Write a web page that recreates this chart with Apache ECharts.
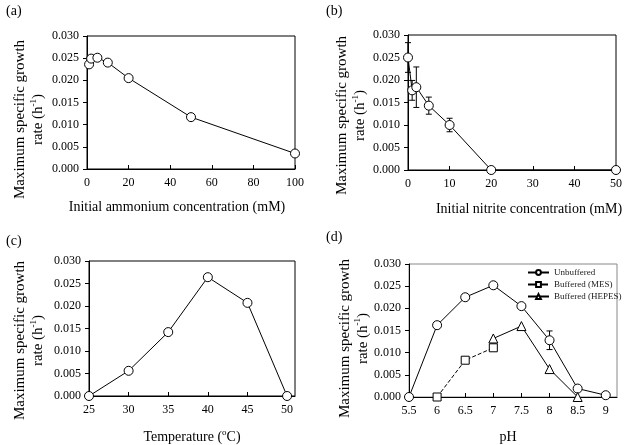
<!DOCTYPE html>
<html>
<head>
<meta charset="utf-8">
<script src="https://cdn.jsdelivr.net/npm/echarts@6/dist/echarts.min.js"></script>
<style>html,body{margin:0;padding:0;background:#fff}#c{width:640px;height:445px}</style>
</head>
<body>
<div id="c"></div>
<script>
// (a) ammonium
const aX = [1, 2, 5, 10, 20, 50, 100];
const aY = [0.0236, 0.0249, 0.0251, 0.0240, 0.0205, 0.0117, 0.0035];
// (b) nitrite
const bX = [0, 1, 2, 5, 10, 20, 50];
const bY = [0.0250, 0.0177, 0.0184, 0.0143, 0.0100, 0, 0];
const bErr = [0.0033, 0.0022, 0.0045, 0.0019, 0.0015, 0, 0];
// (c) temperature
const cX = [25, 30, 35, 40, 45, 50];
const cY = [0, 0.0056, 0.0142, 0.0264, 0.0207, 0];
// (d) pH
const dX = [5.5, 6, 6.5, 7, 7.5, 8, 8.5, 9];
const dUnbuf = [0, 0.0162, 0.0225, 0.0252, 0.0205, 0.0128, 0.0019, 0.0004];
const dUnbufErr = [0, 0, 0, 0, 0, 0.0021, 0, 0];
const dMesX = [6, 6.5, 7];
const dMes = [0, 0.0083, 0.0111];
const dHepesX = [7, 7.5, 8, 8.5];
const dHepes = [0.0132, 0.0160, 0.0063, 0];
const yTicks = ['0.000', '0.005', '0.010', '0.015', '0.020', '0.025', '0.030'];

const FONT = '"Liberation Serif", "Times New Roman", serif';
const pairs = (xs, ys) => xs.map((x, i) => [x, ys[i]]);

const chart = echarts.init(document.getElementById('c'), null, {renderer: 'canvas'});

const grids = [
  {left: 87, top: 36, width: 208, height: 133, show: true, borderColor: '#000', borderWidth: 1},
  {left: 408, top: 35, width: 208, height: 135, show: true, borderColor: '#000', borderWidth: 1},
  {left: 89, top: 261, width: 206, height: 135, show: true, borderColor: '#000', borderWidth: 1},
  {left: 409, top: 264, width: 208, height: 136, show: true, borderColor: '#888', borderWidth: 1}
];

const xCfg = [
  {min: 0, max: 100, interval: 20, pad: [0, 28, 0, 0], name: 'Initial ammonium concentration (mM)', gap: 31},
  {min: 0, max: 50, interval: 10, pad: [0, 0, 0, 34], name: 'Initial nitrite concentration (mM)', gap: 32},
  {min: 25, max: 51, interval: 5, pad: [0, 0, 0, 0], name: '{a|Temperature (}{s|o}{a|C)}', gap: 32},
  {min: 5.5, max: 9.2, interval: 0.5, pad: [0, 10, 0, 0], name: 'pH', gap: 33}
];
const yGaps = [40, 39, 42, 37];
const yShift = [34, 26, 24, 16];

const richX = {
  a: {fontFamily: FONT, fontSize: 14, color: '#000', lineHeight: 18},
  s: {fontFamily: FONT, fontSize: 9, color: '#000', verticalAlign: 'top', lineHeight: 18, padding: [0, 0, 6, 0]}
};
const richY = {
  a: {fontFamily: FONT, fontSize: 15, color: '#000', lineHeight: 18},
  s: {fontFamily: FONT, fontSize: 9, color: '#000', verticalAlign: 'top', lineHeight: 18, padding: [0, 0, 6, 0]}
};

const xAxis = xCfg.map((c, i) => ({
  type: 'value', gridIndex: i, min: c.min, max: c.max, interval: c.interval,
  name: c.name, nameLocation: 'middle', nameGap: c.gap,
  nameTextStyle: {fontFamily: FONT, fontSize: 14, color: '#000', padding: c.pad, rich: richX},
  axisLine: {show: true, onZero: false, lineStyle: {color: '#000', width: 1}},
  axisTick: {show: true, inside: true, length: 4, lineStyle: {color: '#000'}},
  splitLine: {show: false},
  axisLabel: {
    fontFamily: FONT, fontSize: 12, color: '#000', margin: 8,
    showMaxLabel: i < 2,
    formatter: v => {
      const k = (v - c.min) / c.interval;
      return Math.abs(k - Math.round(k)) < 1e-6 ? String(Math.round(v * 10) / 10) : '';
    }
  }
}));

const yAxis = grids.map((g, i) => ({
  type: 'value', gridIndex: i, min: 0, max: 0.03, interval: 0.005,
  name: '{a|Maximum specific growth}\n{a|rate (h}{s|-1}{a|)}',
  nameLocation: 'middle', nameGap: yGaps[i], nameRotate: 90,
  nameTextStyle: {rich: richY, align: 'center', padding: [0, yShift[i], 0, 0]},
  axisLine: {show: true, lineStyle: {color: '#000', width: 1}},
  axisTick: {show: true, inside: false, length: 4, lineStyle: {color: '#000'}},
  splitLine: {show: false},
  axisLabel: {fontFamily: FONT, fontSize: 12, color: '#000', margin: 8,
    formatter: v => yTicks[Math.round(v / 0.005)]}
}));

function lineSeries(name, data, i, symbol, size, dashed) {
  return {
    name, type: 'line', xAxisIndex: i, yAxisIndex: i, data,
    symbol, symbolSize: size, showSymbol: true,
    itemStyle: {color: '#fff', borderColor: '#000', borderWidth: 1},
    lineStyle: {color: '#000', width: 1, type: dashed ? 'dashed' : 'solid'},
    emphasis: {disabled: true}, animation: false, z: 3
  };
}

function errSeries(xs, ys, es, i) {
  const data = xs.map((x, k) => [x, ys[k], es[k]]).filter(d => d[2] > 0);
  return {
    type: 'custom', xAxisIndex: i, yAxisIndex: i, data, z: 2, animation: false, silent: true,
    renderItem: (params, api) => {
      const x = api.value(0), y = api.value(1), e = api.value(2);
      const top = api.coord([x, y + e]);
      const bot = api.coord([x, y - e]);
      const w = 3;
      const st = {stroke: '#000', lineWidth: 1};
      return {type: 'group', children: [
        {type: 'line', shape: {x1: top[0], y1: top[1], x2: bot[0], y2: bot[1]}, style: st},
        {type: 'line', shape: {x1: top[0] - w, y1: top[1], x2: top[0] + w, y2: top[1]}, style: st},
        {type: 'line', shape: {x1: bot[0] - w, y1: bot[1], x2: bot[0] + w, y2: bot[1]}, style: st}
      ]};
    }
  };
}

const series = [
  lineSeries('a', pairs(aX, aY), 0, 'circle', 9, false),
  errSeries(bX, bY, bErr, 1),
  lineSeries('b', pairs(bX, bY), 1, 'circle', 9, false),
  lineSeries('c', pairs(cX, cY), 2, 'circle', 9, false),
  errSeries(dX, dUnbuf, dUnbufErr, 3),
  lineSeries('Unbuffered', pairs(dX, dUnbuf), 3, 'circle', 9, false),
  lineSeries('Buffered (MES)', pairs(dMesX, dMes), 3, 'rect', 8, true),
  lineSeries('Buffered (HEPES)', pairs(dHepesX, dHepes), 3, 'triangle', 9, false)
];

const labelStyle = {fontFamily: FONT, fontSize: 14, fill: '#000'};
chart.setOption({
  animation: false,
  grid: grids,
  xAxis, yAxis, series,
  legend: {
    data: ['Unbuffered', 'Buffered (MES)', 'Buffered (HEPES)'],
    orient: 'vertical', left: 522, top: 263, itemGap: 3,
    itemWidth: 21, itemHeight: 6,
    textStyle: {fontFamily: FONT, fontSize: 9, color: '#222'},
    selectedMode: false
  },
  graphic: [
    {type: 'text', left: 6, top: 4, style: Object.assign({text: '(a)'}, labelStyle)},
    {type: 'text', left: 326, top: 4, style: Object.assign({text: '(b)'}, labelStyle)},
    {type: 'text', left: 6, top: 234, style: Object.assign({text: '(c)'}, labelStyle)},
    {type: 'text', left: 326, top: 230, style: Object.assign({text: '(d)'}, labelStyle)}
  ]
});
</script>
</body>
</html>
